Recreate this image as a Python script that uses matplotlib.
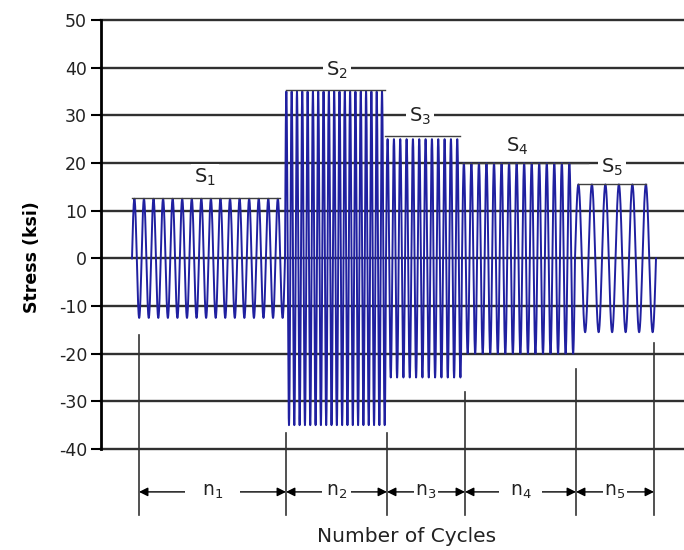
import numpy as np
import matplotlib
matplotlib.use('Agg')
import matplotlib.pyplot as plt

plt.rcParams['axes.unicode_minus'] = False

# load blocks (x in arbitrary "cycle" units along the axis)
block_start = [31, 184, 285, 361, 474]
block_end = [184, 285, 361, 474, 555]
amplitudes = [12.5, 35, 25, 20, 15.5]
n_cycles = [16, 19, 12, 15, 6]

block_names = ['S$_1$', 'S$_2$', 'S$_3$', 'S$_4$', 'S$_5$']
count_names = ['n$_1$', 'n$_2$', 'n$_3$', 'n$_4$', 'n$_5$']

# dimension lines under the axis
dim_x = [38, 185, 286, 364, 475, 553]
dim_top = [-16.1, -36.6, -36.6, -28, -23.2, -17.8]

yticks = [-40, -30, -20, -10, 0, 10, 20, 30, 40, 50]

fig = plt.figure(figsize=(6.84, 5.5), dpi=100)
ax = fig.add_axes([101/684, 1 - 449/550, 1 - 101/684, (449 - 20)/550])
ax.set_xlim(0, 583)
ax.set_ylim(-40, 50)

for y in yticks:
    ax.axhline(y, color='#303030', lw=1.7, zorder=1, clip_on=False)

wave_color = '#2020a0'
for x0, x1, amp, nc in zip(block_start, block_end, amplitudes, n_cycles):
    x = np.linspace(x0, x1, 4000)
    ax.plot(x, amp * np.sin(2 * np.pi * nc * (x - x0) / (x1 - x0)),
            color=wave_color, lw=1.4, zorder=2)

# caps on top of each block
cap_x0 = [31, 185, 284, 361, 477]
cap_x1 = [179, 284, 359, 487, 545]
cap_y = [12.6, 35.3, 25.6, 20, 15.6]
for a, b, y in zip(cap_x0, cap_x1, cap_y):
    ax.plot([a, b], [y, y], color='#404040', lw=1.0, zorder=3)

# block labels
label_pos = [(104, 16.9), (236, 39.5), (319, 29.7), (416, 23.4), (511, 19.0)]
for (lx, ly), s in zip(label_pos, block_names):
    ax.text(lx, ly, s, ha='center', va='center', fontsize=14, color='#222222',
            bbox=dict(facecolor='white', edgecolor='none', pad=2), zorder=4)

# dimension lines and arrows
for xv, yt in zip(dim_x, dim_top):
    ax.plot([xv, xv], [yt, -53.8], color='#333333', lw=1.2, clip_on=False, zorder=3)

arrow_y = -49
label_pad = [12, 3, 1, 8, 1]
for i, s in enumerate(count_names):
    a, b = dim_x[i], dim_x[i + 1]
    ax.annotate('', xy=(a, arrow_y), xytext=(b, arrow_y),
                arrowprops=dict(arrowstyle='<|-|>', color='black', lw=1.0,
                                mutation_scale=13, shrinkA=0, shrinkB=0),
                annotation_clip=False)
    ax.text((a + b) / 2, arrow_y, s, ha='center', va='center', fontsize=13.5,
            color='#222222', clip_on=False,
            bbox=dict(facecolor='white', edgecolor='none', pad=label_pad[i]))

ax.set_yticks(yticks)
ax.set_xticks([])
for side in ['top', 'right', 'bottom']:
    ax.spines[side].set_visible(False)
ax.spines['left'].set_linewidth(2)
ax.tick_params(axis='y', length=7, width=1.5, labelsize=12.5, labelcolor='#222222', pad=3)

fig.text(32/684, 1 - 257/550, 'Stress (ksi)', rotation=90, ha='center', va='center',
         fontsize=12.5, fontweight='bold', color='black')
fig.text(407/684, 1 - 537/550, 'Number of Cycles', ha='center', va='center',
         fontsize=14.5, color='#222222')

fig.savefig('out.png', dpi=100)
